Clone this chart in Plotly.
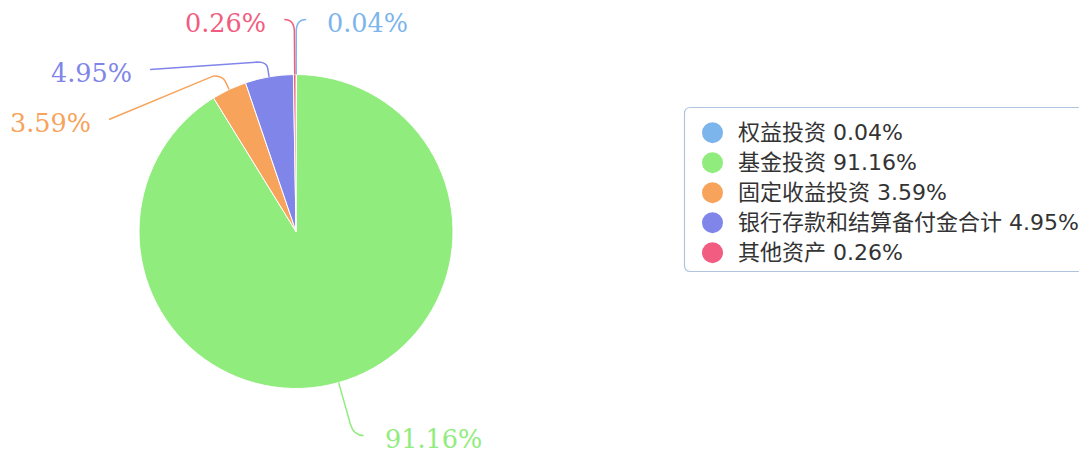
import math
import plotly.graph_objects as go

# ---- data ----
categories = ["权益投资", "基金投资", "固定收益投资", "银行存款和结算备付金合计", "其他资产"]
values = [0.04, 91.16, 3.59, 4.95, 0.26]
colors = ["#7cb5ec", "#90ed7d", "#f7a35c", "#8085e9", "#f15c80"]
value_labels = [f"{v:.2f}%" for v in values]

# ---- layout constants (pixels) ----
W, H = 1079, 451
CX, CY, RAD = 296, 231.5, 157
R_LAB, R_X, GAP = 212, 218, 50


def px(x):
    return x / W


def py(y):
    return 1 - y / H


def path_from(points_cmds):
    out = []
    for cmd, pts in points_cmds:
        s = cmd + " " + " ".join(f"{px(x):.5f},{py(y):.5f}" for x, y in pts)
        out.append(s)
    return " ".join(out)


fig = go.Figure()
fig.add_trace(go.Pie(
    labels=categories, values=values, sort=False, direction="clockwise", rotation=0,
    marker=dict(colors=colors, line=dict(color="white", width=1)),
    textinfo="none", hoverinfo="label+percent", showlegend=False,
    domain=dict(x=[px(CX - RAD), px(CX + RAD)], y=[py(CY + RAD), py(CY - RAD)]),
))

# ---- label placement computed from slice angles ----
total = sum(values)
cum = 0
items = []
for i, v in enumerate(values):
    frac = (cum + v / 2) / total
    cum += v
    th = 2 * math.pi * frac
    d = (math.sin(th), -math.cos(th))
    side = 1 if d[0] >= 0 else -1
    items.append(dict(i=i, d=d, side=side, want=CY + R_LAB * d[1]))

for side in (1, -1):
    group = sorted([it for it in items if it["side"] == side], key=lambda t: t["want"])
    prev = -1e9
    for it in group:
        y = max(it["want"], prev + GAP)
        it["y"] = y
        it["shifted"] = y - it["want"] > 0.5
        prev = y

shapes = []
annotations = []
for it in items:
    i, d, s = it["i"], it["d"], it["side"]
    p0 = (CX + RAD * d[0], CY + RAD * d[1])
    if not it["shifted"]:
        a = (CX + (R_LAB - 12) * d[0], CY + (R_LAB - 12) * d[1])
        c = (CX + R_LAB * d[0], CY + R_LAB * d[1])
        e = (c[0] + s * 10, c[1])
        path = path_from([("M", [p0]), ("L", [a]), ("Q", [c, e])])
    else:
        a = (p0[0] + 9 * d[0], p0[1] + 9 * d[1])
        c = (p0[0] + 15 * d[0], p0[1] + 15 * d[1])
        b = (c[0] + s * 9, c[1])
        dy = it["y"] - CY
        e = (CX + s * math.sqrt(max(R_X ** 2 - dy ** 2, 0)), it["y"])
        path = path_from([("M", [p0]), ("L", [a]), ("Q", [c, b]), ("L", [e])])
    shapes.append(dict(type="path", path=path, xref="paper", yref="paper",
                       line=dict(color=colors[i], width=1.5)))
    annotations.append(dict(
        x=px(e[0] + s * (19 if s > 0 else 16)), y=py(e[1] + 3.5), xref="paper", yref="paper",
        text=value_labels[i], showarrow=False,
        xanchor="left" if s > 0 else "right", yanchor="middle",
        font=dict(family="DejaVu Serif", size=25.5, color=colors[i]),
    ))

# ---- legend box (rounded) ----
LX0, LX1, LY0, LY1, RR = 684.5, 1100, 107.5, 271.5, 6
box = path_from([
    ("M", [(LX0 + RR, LY0)]), ("L", [(LX1, LY0)]), ("L", [(LX1, LY1)]),
    ("L", [(LX0 + RR, LY1)]), ("Q", [(LX0, LY1), (LX0, LY1 - RR)]),
    ("L", [(LX0, LY0 + RR)]), ("Q", [(LX0, LY0), (LX0 + RR, LY0)]),
])
shapes.append(dict(type="path", path=box, xref="paper", yref="paper",
                   line=dict(color="#b0c4de", width=1.2), fillcolor="rgba(255,255,255,0)"))

ROW0, ROWH, MX, MR, TX = 132.7, 30, 712.5, 10.5, 736
for i, name in enumerate(categories):
    yc = ROW0 + ROWH * i
    shapes.append(dict(type="circle", xref="paper", yref="paper",
                       x0=px(MX - MR), x1=px(MX + MR), y0=py(yc + MR), y1=py(yc - MR),
                       fillcolor=colors[i], line=dict(width=0)))
    annotations.append(dict(
        x=px(TX), y=py(yc), xref="paper", yref="paper",
        text=f"{name} {value_labels[i]}", showarrow=False,
        xanchor="left", yanchor="middle",
        font=dict(family="DejaVu Sans, Noto Sans CJK SC", size=22, color="#333333"),
    ))

fig.update_layout(
    width=W, height=H, margin=dict(l=0, r=0, t=0, b=0),
    paper_bgcolor="white", plot_bgcolor="white",
    shapes=shapes, annotations=annotations, showlegend=False,
)
fig.write_html("out.html", config={"displayModeBar": False},
               post_script="document.body.style.margin='0';document.body.style.overflow='hidden';")
